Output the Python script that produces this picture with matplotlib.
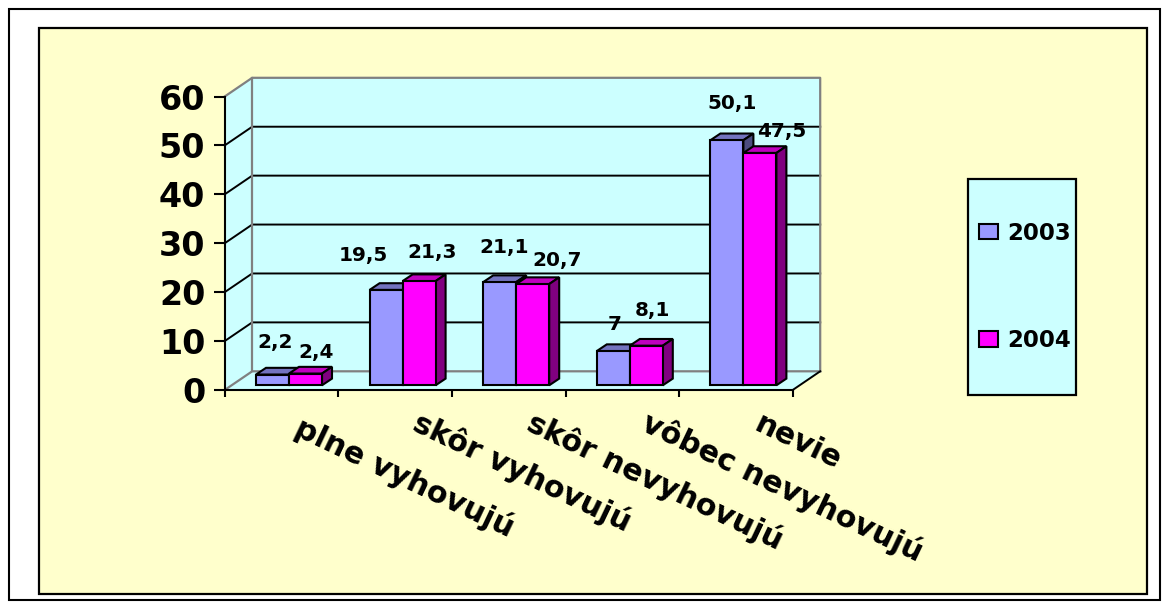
import matplotlib
matplotlib.use("Agg")
import matplotlib.pyplot as plt
from matplotlib.patches import Polygon, Rectangle

plt.rcParams['font.family'] = ['DejaVu Sans']
plt.rcParams['font.weight'] = 'bold'

categories = ["plne vyhovujú", "skôr vyhovujú", "skôr nevyhovujú", "vôbec nevyhovujú", "nevie"]
values_2003 = [2.2, 19.5, 21.1, 7, 50.1]
values_2004 = [2.4, 21.3, 20.7, 8.1, 47.5]
labels_2003 = ["2,2", "19,5", "21,1", "7", "50,1"]
labels_2004 = ["2,4", "21,3", "20,7", "8,1", "47,5"]
yticks = [0, 10, 20, 30, 40, 50, 60]

W, H = 1167, 607
fig = plt.figure(figsize=(W / 100, H / 100), dpi=100, facecolor='white')

def fx(px): return px / W
def fy(py): return 1 - py / H

def frame(x0, y0, x1, y1, fc, ec='black', lw=1.6, z=0):
    fig.add_artist(Rectangle((fx(x0), fy(y1)), fx(x1) - fx(x0), fy(y0) - fy(y1),
                             transform=fig.transFigure, fc=fc, ec=ec, lw=lw, zorder=z))

frame(8.5, 9, 1160, 600, 'white', lw=1.5)
frame(38.5, 28, 1147, 594, '#FFFFCC', lw=1.6)
frame(968, 178.7, 1076, 395, '#CCFFFF', lw=1.6)

# axes = front plane of the 3D box
AX_L, AX_R, AX_T, AX_B = 224.7, 792.7, 96.5, 390
ax = fig.add_axes([fx(AX_L), fy(AX_B), fx(AX_R) - fx(AX_L), fy(AX_T) - fy(AX_B)], zorder=2)
ax.patch.set_visible(False)
ax.set_xlim(0, 5)
ax.set_ylim(0, 60)
PX = (AX_R - AX_L) / 5
PY = (AX_B - AX_T) / 60
DX, DY = 27.5 / PX, 18.7 / PY          # box depth in data units

# walls
WALL = '#CCFFFF'
ax.add_patch(Polygon([(0, 0), (DX, DY), (DX, 60 + DY), (0, 60)], fc=WALL, ec='none', clip_on=False, zorder=0))
ax.add_patch(Polygon([(DX, DY), (5 + DX, DY), (5 + DX, 60 + DY), (DX, 60 + DY)], fc=WALL, ec='none', clip_on=False, zorder=0))
ax.add_patch(Polygon([(0, 0), (5, 0), (5 + DX, DY), (DX, DY)], fc=WALL, ec='none', clip_on=False, zorder=0))

# grid lines
for v in yticks[1:-1]:
    ax.plot([0, DX, 5 + DX], [v, v + DY, v + DY], color='black', lw=1.4, clip_on=False, zorder=1)
GR = '#808080'
ax.plot([0, DX, 5 + DX, 5 + DX], [60, 60 + DY, 60 + DY, DY], color=GR, lw=1.6, clip_on=False, zorder=1)
ax.plot([0, DX, 5 + DX], [0, DY, DY], color=GR, lw=1.6, clip_on=False, zorder=1)
ax.plot([DX, DX], [DY, 60 + DY], color=GR, lw=1.6, clip_on=False, zorder=1)
ax.plot([5, 5 + DX], [0, DY], color='black', lw=1.4, clip_on=False, zorder=1)

# bars
BAR_OFF = 31.3 / PX
BAR_W = 33 / PX
BASE = 4.7 / PY
SX, SY = 10 / PX, 6.7 / PY
styles = [('#9999FF', '#7373BF', '#4D4D80'), ('#FF00FF', '#BF00BF', '#800080')]
z = 3
for i in range(len(categories)):
    for j, vals in enumerate((values_2003, values_2004)):
        front, top, side = styles[j]
        left = i + BAR_OFF + j * BAR_W
        v = vals[i]
        ax.bar(left, v, BAR_W, bottom=BASE, align='edge', color=front, edgecolor='black',
               lw=1.5, zorder=z + 1, clip_on=False,
               label=("2003", "2004")[j] if i == 0 else None)
        r, t = left + BAR_W, BASE + v
        ax.add_patch(Polygon([(left, t), (left + SX, t + SY), (r + SX, t + SY), (r, t)],
                             fc=top, ec='black', lw=1.5, zorder=z, clip_on=False))
        ax.add_patch(Polygon([(r, BASE), (r + SX, BASE + SY), (r + SX, t + SY), (r, t)],
                             fc=side, ec='black', lw=1.5, zorder=z, clip_on=False))
        z += 2

# data labels: pixel offsets from the front-top centre of each bar
offs_2003 = [(3, 32), (-23, 34), (4, 35), (1, 27), (5, 37)]
offs_2004 = [(11, 21), (13, 29), (24, 24), (6, 35), (22, 21)]
for i in range(len(categories)):
    for j, (vals, labs, offs) in enumerate(((values_2003, labels_2003, offs_2003),
                                            (values_2004, labels_2004, offs_2004))):
        xc = i + BAR_OFF + (j + 0.5) * BAR_W
        ax.annotate(labs[i], (xc, BASE + vals[i]), xytext=offs[i], textcoords='offset pixels',
                    ha='center', va='center', fontsize=14.4, fontweight='bold', color='black',
                    zorder=100, annotation_clip=False)

# axes decoration
for s in ('top', 'right'):
    ax.spines[s].set_visible(False)
for s in ('left', 'bottom'):
    ax.spines[s].set_linewidth(1.5)
    ax.spines[s].set_zorder(2)
ax.set_yticks(yticks)
ax.set_yticklabels([str(v) for v in yticks], fontsize=24, fontweight='bold')
ax.set_xticks(range(6))
ax.set_xticklabels([])
ax.tick_params(axis='y', length=8, width=1.5, pad=6)
ax.tick_params(axis='x', length=5, width=1.5)

# category labels
cat_offs = [(15, -36), (19, -31), (20, -31), (21, -31), (20, -32)]
for i, c in enumerate(categories):
    ax.annotate(c, (i + 0.5, 0), xytext=cat_offs[i], textcoords='offset pixels',
                rotation=-25.5, rotation_mode='anchor', ha='left', va='center',
                fontsize=21.8, fontweight='bold', annotation_clip=False)

# legend
h, l = ax.get_legend_handles_labels()
leg = fig.legend(h, l, loc='center', bbox_to_anchor=(fx(1025), fy(287)), frameon=False,
                 fontsize=16.5, handlelength=0.85, handleheight=0.65, handletextpad=0.42,
                 labelspacing=3.68, borderpad=0, borderaxespad=0)
leg.set_zorder(5)
for t in leg.get_texts():
    t.set_fontweight('bold')

fig.savefig('out.png', dpi=100)
